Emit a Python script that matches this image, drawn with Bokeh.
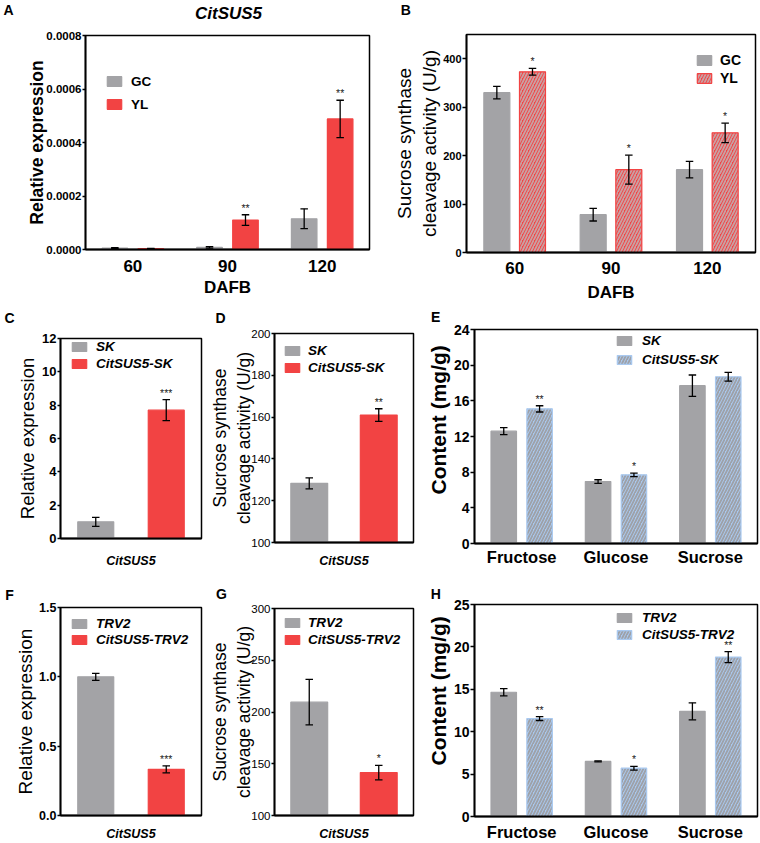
import math
from bokeh.plotting import figure
from bokeh.models import (Range1d, FactorRange, FixedTicker, PrintfTickFormatter,
                          ColumnDataSource, Label, Legend, LegendItem)
from bokeh.transform import dodge
from bokeh.layouts import row, column
from bokeh.embed import file_html
from bokeh.resources import INLINE
from bokeh.core.properties import value

# ---------------- data ----------------
A_days = ["60", "90", "120"]
A_GC = [0.000005, 0.000008, 0.000115]
A_GC_err = [0.0000015, 0.000003, 0.000037]
A_YL = [0.000003, 0.000110, 0.000488]
A_YL_err = [0.000001, 0.000020, 0.000070]
A_YL_sig = ["", "**", "**"]
A_yticks = [0, 0.0002, 0.0004, 0.0006, 0.0008]
A_ylim = [0, 0.0008]

B_days = ["60", "90", "120"]
B_GC = [330, 78, 171]
B_GC_err = [13, 13, 17]
B_YL = [373, 171, 247]
B_YL_err = [7, 30, 20]
B_YL_sig = ["*", "*", "*"]
B_yticks = [0, 100, 200, 300, 400]
B_ylim = [0, 450]

gene = ["CitSUS5"]

C_groups = ["SK", "CitSUS5-SK"]
C_vals = [1.0, 7.7]
C_err = [0.27, 0.63]
C_sig = ["", "***"]
C_yticks = [0, 2, 4, 6, 8, 10, 12]
C_ylim = [0, 12]

D_groups = ["SK", "CitSUS5-SK"]
D_vals = [128.3, 161.0]
D_err = [2.6, 3.0]
D_sig = ["", "**"]
D_yticks = [100, 120, 140, 160, 180, 200]
D_ylim = [100, 200]

E_sugars = ["Fructose", "Glucose", "Sucrose"]
E_SK = [12.6, 6.95, 17.7]
E_SK_err = [0.4, 0.2, 1.2]
E_OE = [15.1, 7.7, 18.7]
E_OE_err = [0.35, 0.2, 0.5]
E_OE_sig = ["**", "*", ""]
E_yticks = [0, 4, 8, 12, 16, 20, 24]
E_ylim = [0, 24]

F_groups = ["TRV2", "CitSUS5-TRV2"]
F_vals = [1.0, 0.333]
F_err = [0.025, 0.025]
F_sig = ["", "***"]
F_yticks = [0, 0.5, 1.0, 1.5]
F_ylim = [0, 1.5]

G_groups = ["TRV2", "CitSUS5-TRV2"]
G_vals = [209.5, 141.5]
G_err = [22, 7]
G_sig = ["", "*"]
G_yticks = [100, 150, 200, 250, 300]
G_ylim = [100, 300]

H_sugars = ["Fructose", "Glucose", "Sucrose"]
H_TRV2 = [14.65, 6.5, 12.4]
H_TRV2_err = [0.43, 0.05, 1.0]
H_VIGS = [11.55, 5.7, 18.8]
H_VIGS_err = [0.23, 0.22, 0.65]
H_VIGS_sig = ["**", "*", "**"]
H_yticks = [0, 5, 10, 15, 20, 25]
H_ylim = [0, 25]

# ---------------- style ----------------
FONT = "Liberation Sans"
GREY = "#a3a3a6"
RED = "#f24343"
BLUE = "#a9c9f0"
RED_HATCH = "#c9a0a3"
BLUE_HATCH = "#9ea1a8"


def fs(px):
    return f"{px:.1f}px"


def make_fig(box, frame, factors, ylim, yticks, fmt, tick_px, tick_style, tick_out=4,
             ylabel="", ylabel_px=17, ylabel_style="bold", ylabel_standoff=0,
             title_location="above"):
    L, T, R, B = box
    fl, ft, fr, fb = frame
    p = figure(width=R - L, height=B - T, x_range=FactorRange(factors=factors),
               y_range=Range1d(ylim[0], ylim[1]),
               min_border_left=fl - L, min_border_right=R - fr,
               min_border_top=ft - T, min_border_bottom=B - fb,
               title_location=title_location,
               output_backend="svg", toolbar_location=None, tools="")
    p.xgrid.visible = False
    p.ygrid.visible = False
    p.outline_line_color = "black"
    p.outline_line_width = 1.5
    p.outline_line_alpha = 1.0
    p.background_fill_color = "white"
    p.border_fill_color = "white"
    ax = p.yaxis[0]
    ax.ticker = FixedTicker(ticks=yticks)
    ax.formatter = PrintfTickFormatter(format=fmt)
    ax.major_label_text_font = FONT
    ax.major_label_text_font_size = fs(tick_px)
    ax.major_label_text_font_style = tick_style
    ax.major_label_text_color = "black"
    ax.major_tick_out = tick_out
    ax.major_tick_in = 0
    ax.major_tick_line_width = 1.5
    ax.minor_tick_line_color = None
    ax.axis_line_width = 1.8
    ax.major_label_standoff = 1
    ax.axis_label = ylabel
    ax.axis_label_text_font = FONT
    ax.axis_label_text_font_size = fs(ylabel_px)
    ax.axis_label_text_font_style = ylabel_style
    ax.axis_label_text_color = "black"
    ax.axis_label_standoff = ylabel_standoff
    xa = p.xaxis[0]
    xa.major_tick_line_color = None
    xa.minor_tick_line_color = None
    xa.major_tick_out = 0
    xa.axis_line_width = 1.8
    xa.major_label_text_font = FONT
    xa.major_label_text_color = "black"
    xa.axis_label_text_font = FONT
    xa.axis_label_text_color = "black"
    geo = dict(fl=fl, ft=ft, fr=fr, fb=fb, n=len(factors), ylim=ylim)
    return p, geo


def side_text(p, geo, x, y, text, px, style="bold", place="above"):
    """Text outside the frame, put in a side panel so it is not clipped;
    its position is converted to the panel's own data coordinates."""
    fw = geo["fr"] - geo["fl"]
    fh = geo["fb"] - geo["ft"]
    y0, y1 = geo["ylim"]
    xd = (x - geo["fl"]) / fw * geo["n"]
    yd = y0 + (geo["fb"] - y) / fh * (y1 - y0)
    p.add_layout(Label(x=xd, y=yd, x_units="data", y_units="data", text=text,
                       text_font=FONT, text_font_size=fs(px), text_font_style=style,
                       text_align="center", text_baseline="middle",
                       text_color="black"), place)


def draw_series(p, cats, vals, errs, sigs, offset, width, bottom, fill, line,
                hatch=None, hatch_color=None):
    up = [v + e for v, e in zip(vals, errs)]
    lo = [v - e for v, e in zip(vals, errs)]
    src = ColumnDataSource(dict(cat=cats, val=vals, up=up, lo=lo))
    xs = dodge("cat", offset, range=p.x_range)
    kw = {}
    if hatch:
        kw = dict(hatch_pattern=hatch, hatch_color=hatch_color, hatch_scale=6,
                  hatch_weight=1.8)
    r = p.vbar(x=xs, top="val", bottom=bottom, width=width, source=src,
               fill_color=fill, line_color=line, line_width=1.2, **kw)
    p.segment(x0=xs, y0="lo", x1=xs, y1="up", source=src, line_color="black",
              line_width=1.3)
    p.scatter(x=xs, y="up", marker="dash", size=7.5, source=src,
              line_color="black", line_width=1.3)
    p.scatter(x=xs, y="lo", marker="dash", size=7.5, source=src,
              line_color="black", line_width=1.3)
    keep = [i for i, s in enumerate(sigs) if s]
    if keep:
        ssrc = ColumnDataSource(dict(cat=[cats[i] for i in keep],
                                     up=[up[i] for i in keep],
                                     sig=[sigs[i] for i in keep]))
        p.text(x=dodge("cat", offset, range=p.x_range), y="up", text="sig", source=ssrc,
               text_font=value(FONT), text_font_size=value(fs(10.5)),
               text_align="center", text_baseline="middle", y_offset=-7,
               text_color="#222222")
    return r


def add_legend(p, geo, items, sw_left, c1, step, text_x, px, style, glyph_h=11, sw_w=18):
    item_h = 16
    spacing = max(0, round(step - item_h))
    top = c1 - item_h / 2
    bottom = top + 2 * item_h + spacing
    leg = Legend(items=[LegendItem(label=lab, renderers=[r]) for lab, r in items],
                 location=(sw_left - geo["fl"], geo["fb"] - bottom), orientation="vertical",
                 glyph_width=sw_w, glyph_height=glyph_h,
                 label_height=item_h, label_width=10,
                 label_standoff=round(text_x - sw_left - sw_w),
                 spacing=spacing, padding=0, margin=0,
                 border_line_color=None, background_fill_alpha=0.0,
                 label_text_font=FONT, label_text_font_size=fs(px),
                 label_text_font_style=style, label_text_color="black")
    p.add_layout(leg)


# ---------------- A ----------------
pA, gA = make_fig((0, 0, 390, 307), (85, 35, 369, 249), A_days, A_ylim, A_yticks,
                  "%.4f", 11.5, "bold", tick_out=3,
                  ylabel="Relative expression", ylabel_px=17.5, ylabel_style="bold",
                  ylabel_standoff=-4)
rA1 = draw_series(pA, A_days, A_GC, A_GC_err, [""] * 3, -0.19, 0.27, 0, GREY, GREY)
rA2 = draw_series(pA, A_days, A_YL, A_YL_err, A_YL_sig, 0.19, 0.27, 0, RED, RED)
pA.xaxis.major_label_text_font_size = fs(17)
pA.xaxis.major_label_text_font_style = "bold"
pA.xaxis.major_label_standoff = 10
pA.xaxis.axis_label = "DAFB"
pA.xaxis.axis_label_text_font_size = fs(17)
pA.xaxis.axis_label_text_font_style = "bold"
pA.xaxis.axis_label_standoff = 3
add_legend(pA, gA, [("GC", rA1), ("YL", rA2)], 105, 81, 23, 131, 13.5, "bold", glyph_h=12)
side_text(pA, gA, 228, 13, "CitSUS5", 17, "bold italic", "above")
side_text(pA, gA, 8, 9, "A", 14, "bold", "right")

# ---------------- B ----------------
pB, gB = make_fig((390, 0, 760, 307), (464, 34, 755, 252), B_days, B_ylim, B_yticks,
                  "%d", 11, "bold",
                  ylabel="Sucrose synthase\ncleavage activity (U/g)", ylabel_px=19,
                  ylabel_style="normal", ylabel_standoff=0)
rB1 = draw_series(pB, B_days, B_GC, B_GC_err, [""] * 3, -0.185, 0.27, 0, GREY, GREY)
rB2 = draw_series(pB, B_days, B_YL, B_YL_err, B_YL_sig, 0.185, 0.27, 0, RED, RED,
                  hatch="/", hatch_color=RED_HATCH)
pB.xaxis.major_label_text_font_size = fs(17)
pB.xaxis.major_label_text_font_style = "bold"
pB.xaxis.major_label_standoff = 9
pB.xaxis.axis_label = "DAFB"
pB.xaxis.axis_label_text_font_size = fs(17)
pB.xaxis.axis_label_text_font_style = "bold"
pB.xaxis.axis_label_standoff = 6
add_legend(pB, gB, [("GC", rB1), ("YL", rB2)], 693, 59.5, 18.5, 718, 14, "bold", glyph_h=12)
side_text(pB, gB, 403, 9, "B", 14, "bold", "above")


# ---------------- C / D / F / G ----------------
def two_bar_panel(box, frame, groups, vals, errs, sigs, ylim, yticks, fmt, tick_px,
                  tick_style, tick_out, label_standoff, leg, bar_w, ylabel, ylabel_px,
                  ylabel_style, ylabel_standoff):
    p, g = make_fig(box, frame, gene, ylim, yticks, fmt, tick_px, tick_style,
                    tick_out=tick_out, ylabel=ylabel, ylabel_px=ylabel_px,
                    ylabel_style=ylabel_style, ylabel_standoff=ylabel_standoff)
    r1 = draw_series(p, gene, [vals[0]], [errs[0]], [sigs[0]], -0.25, bar_w,
                     ylim[0], GREY, GREY)
    r2 = draw_series(p, gene, [vals[1]], [errs[1]], [sigs[1]], 0.25, bar_w,
                     ylim[0], RED, RED)
    p.xaxis.major_label_text_font_size = fs(12.5)
    p.xaxis.major_label_text_font_style = "bold italic"
    p.xaxis.major_label_standoff = label_standoff
    sw_left, c1, step, text_x = leg
    add_legend(p, g, [(groups[0], r1), (groups[1], r2)], sw_left, c1, step, text_x,
               13.5, "bold italic", glyph_h=11)
    return p, g


pC, gC = two_bar_panel((0, 307, 207, 570), (60, 338, 201, 538), C_groups, C_vals, C_err,
                       C_sig, C_ylim, C_yticks, "%d", 13, "bold", 3, 15,
                       (70, 346.7, 16.7, 96), 0.255,
                       "Relative expression", 18.5, "normal", 1)
side_text(pC, gC, 9, 317, "C", 14)

pD, gD = two_bar_panel((207, 307, 425, 570), (274, 333, 413, 542), D_groups, D_vals, D_err,
                       D_sig, D_ylim, D_yticks, "%d", 11.5, "normal", 3, 11,
                       (283, 350, 16.7, 308), 0.265,
                       "Sucrose synthase\ncleavage activity (U/g)", 17.5, "normal", -6)
side_text(pD, gD, 220, 317, "D", 14)

pF, gF = two_bar_panel((0, 570, 207, 843), (60, 607, 201, 817), F_groups, F_vals, F_err,
                       F_sig, F_ylim, F_yticks, "%.1f", 12.5, "bold", 3, 11,
                       (70, 625, 15.7, 96), 0.255,
                       "Relative expression", 19, "normal", 0)
side_text(pF, gF, 9, 594, "F", 14)

pG, gG = two_bar_panel((207, 570, 425, 843), (274, 608, 413, 817), G_groups, G_vals, G_err,
                       G_sig, G_ylim, G_yticks, "%d", 11.5, "normal", 3, 11,
                       (283, 624, 16.7, 308), 0.265,
                       "Sucrose synthase\ncleavage activity (U/g)", 17.5, "normal", -6)
side_text(pG, gG, 221, 593, "G", 14)


# ---------------- E / H ----------------
def sugar_panel(box, frame, cats, v1, e1, v2, e2, sig2, ylim, yticks, names, leg,
                label_standoff, ytitle_center):
    p, g = make_fig(box, frame, cats, ylim, yticks, "%d", 14, "bold",
                    title_location="left")
    # y title as a left-hand title, so that it can sit off-centre like the original
    t = p.title
    t.text = "Content (mg/g)"
    t.align = "left"
    t.vertical_align = "middle"
    t.standoff = 0
    t.text_font = FONT
    t.text_font_size = fs(21)
    t.text_font_style = "bold"
    t.text_color = "black"
    half = 0.5 * 7.11 * 21          # half the label length (em widths x size)
    t.offset = round(frame[3] - (ytitle_center + half))
    r1 = draw_series(p, cats, v1, e1, [""] * len(cats), -0.19, 0.27, 0, GREY, GREY)
    r2 = draw_series(p, cats, v2, e2, sig2, 0.19, 0.27, 0, BLUE, BLUE,
                     hatch="/", hatch_color=BLUE_HATCH)
    p.xaxis.major_label_text_font_size = fs(16.5)
    p.xaxis.major_label_text_font_style = "bold"
    p.xaxis.major_label_standoff = label_standoff
    sw_left, c1, step, text_x = leg
    add_legend(p, g, [(names[0], r1), (names[1], r2)], sw_left, c1, step, text_x,
               13.5, "bold italic", glyph_h=11)
    return p, g


pE, gE = sugar_panel((425, 307, 760, 570), (472, 329, 757, 543), E_sugars, E_SK, E_SK_err,
                     E_OE, E_OE_err, E_OE_sig, E_ylim, E_yticks, C_groups,
                     (613, 340.7, 18.7, 640), 4, 419)
side_text(pE, gE, 433, 316, "E", 14)

pH, gH = sugar_panel((425, 570, 760, 843), (472, 604, 757, 818), H_sugars, H_TRV2,
                     H_TRV2_err, H_VIGS, H_VIGS_err, H_VIGS_sig, H_ylim, H_yticks,
                     F_groups, (613, 619.3, 16.7, 640), 6, 692)
side_text(pH, gH, 433, 593, "H", 14)

# each figure is wrapped on its own so that the row does not align the frames
layout = column(row(column(pA), column(pB)),
                row(column(pC), column(pD), column(pE)),
                row(column(pF), column(pG), column(pH)))

with open("out.html", "w") as f:
    f.write(file_html(layout, INLINE))
